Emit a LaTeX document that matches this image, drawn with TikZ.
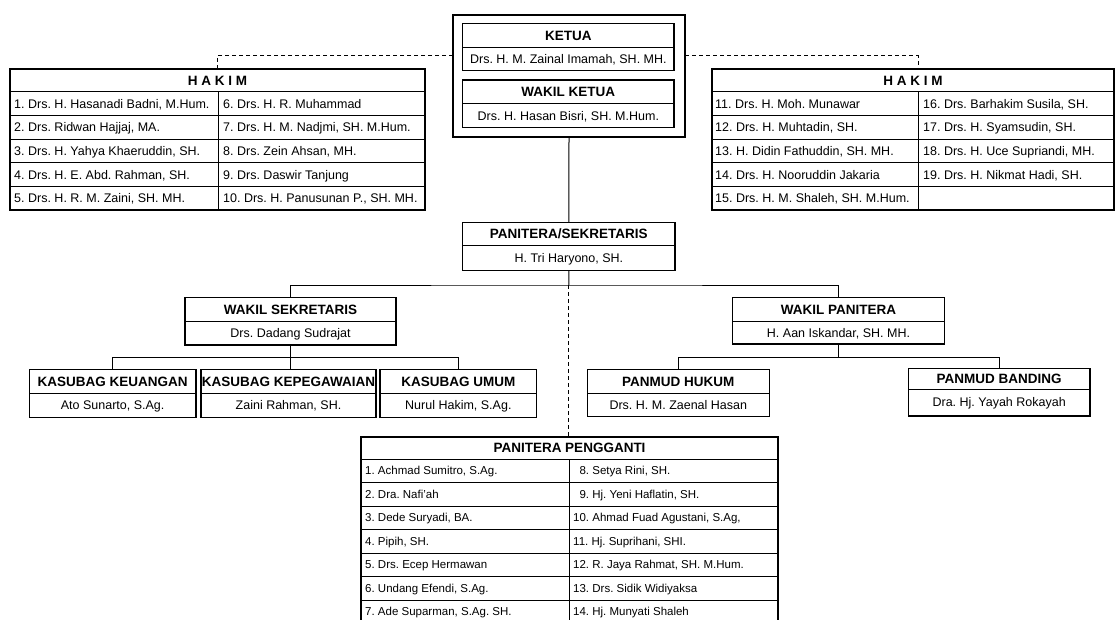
\documentclass[tikz,border=0pt]{standalone}
\usepackage{fontspec}
\setmainfont{Liberation Sans}
\usetikzlibrary{calc}
\frenchspacing
\tikzset{
  frame/.style={draw=black, line width=1.1pt, inner sep=0pt, outer sep=0pt},
  rule/.style={line width=1pt},
  hdr/.style={font=\fontsize{13.5}{13.5}\selectfont\bfseries, inner sep=0pt, text height=9.6pt, text depth=0pt},
  nm/.style={font=\fontsize{12.5}{12.5}\selectfont, inner sep=0pt, text height=8.9pt, text depth=0pt},
  cell/.style={nm, anchor=west},
  ppcell/.style={font=\fontsize{11.5}{11.5}\selectfont, inner sep=0pt, text height=8.2pt, text depth=0pt, anchor=west},
  conn/.style={line width=1pt},
  dconn/.style={line width=1pt, dash pattern=on 4pt off 3pt},
}
\newcommand{\orgbox}[8]{%
  \pgfmathsetmacro{\bxw}{#4-#2}%
  \pgfmathsetmacro{\bxh}{#6-#3}%
  \pgfmathsetmacro{\bxc}{(#2+#4)/2}%
  \pgfmathsetmacro{\bxa}{(#3+#5)/2}%
  \pgfmathsetmacro{\bxb}{(#5+#6)/2}%
  \node[frame, minimum width=\bxw pt, minimum height=\bxh pt, anchor=north west] (#1) at (#2,#3) {};
  \draw[rule] (#2,#5) -- (#4,#5);
  \node[hdr] (#1-h) at (\bxc,\bxa) {#7};
  \node[nm] (#1-n) at (\bxc,\bxb) {#8};
}
\newcommand{\gridtab}[8]{%
  \pgfmathsetmacro{\gtb}{#5+#6*#7}%
  \pgfmathsetmacro{\gtw}{#4-#2}%
  \pgfmathsetmacro{\gth}{\gtb-#3}%
  \pgfmathtruncatemacro{\gtn}{#7-1}%
  \node[frame, minimum width=\gtw pt, minimum height=\gth pt, anchor=north west] (#1) at (#2,#3) {};
  \draw[rule] (#2,#5) -- (#4,#5);
  \foreach \k in {1,...,\gtn} \draw[rule] (#2,{#5+#6*\k}) -- (#4,{#5+#6*\k});
  \draw[rule] (#8,#5) -- (#8,\gtb);
}
\begin{document}
\begin{tikzpicture}[x=1pt,y=-1pt]
\useasboundingbox (0,0) rectangle (1115,620);
\fill[white] (0,0) rectangle (1115,620);
\clip (0,0) rectangle (1115,620);

% ---- top: ketua / wakil ketua
\node[frame, minimum width=232pt, minimum height=122pt, anchor=north west] (pimpinan) at (453,15) {};
\orgbox{ketua}{462.7}{23.3}{674}{47.3}{70.7}{KETUA}{Drs. H. M. Zainal Imamah, SH. MH.}
\orgbox{wketua}{462.7}{80}{674}{104}{127.3}{WAKIL KETUA}{Drs. H. Hasan Bisri, SH. M.Hum.}

% ---- hakim left
\gridtab{hakimL}{10}{69}{425}{92}{23.6}{5}{218}
\node[hdr] (hakimL-h) at (217.5,80.5) {H A K I M};
\foreach \t [count=\i from 0] in {{1. Drs. H. Hasanadi Badni, M.Hum.},{2. Drs. Ridwan Hajjaj, MA.},{3. Drs. H. Yahya Khaeruddin, SH.},{4. Drs. H. E. Abd. Rahman, SH.},{5. Drs. H. R. M. Zaini, SH. MH.}}
  \node[cell] (hakimL-a\i) at (14,{92+23.6*(\i+0.5)}) {\t};
\foreach \t [count=\i from 0] in {{6. Drs. H. R. Muhammad},{7. Drs. H. M. Nadjmi, SH. M.Hum.},{8. Drs. Zein Ahsan, MH.},{9. Drs. Daswir Tanjung},{10. Drs. H. Panusunan P., SH. MH.}}
  \node[cell] (hakimL-b\i) at (223,{92+23.6*(\i+0.5)}) {\t};

% ---- hakim right
\gridtab{hakimR}{712}{69}{1114}{92}{23.6}{5}{918}
\node[hdr] (hakimR-h) at (913,80.5) {H A K I M};
\foreach \t [count=\i from 0] in {{11. Drs. H. Moh. Munawar},{12. Drs. H. Muhtadin, SH.},{13. H. Didin Fathuddin, SH. MH.},{14. Drs. H. Nooruddin Jakaria},{15. Drs. H. M. Shaleh, SH. M.Hum.}}
  \node[cell] (hakimR-a\i) at (715,{92+23.6*(\i+0.5)}) {\t};
\foreach \t [count=\i from 0] in {{16. Drs. Barhakim Susila, SH.},{17. Drs. H. Syamsudin, SH.},{18. Drs. H. Uce Supriandi, MH.},{19. Drs. H. Nikmat Hadi, SH.}}
  \node[cell] (hakimR-b\i) at (923,{92+23.6*(\i+0.5)}) {\t};

% ---- panitera / sekretaris
\orgbox{panitera}{462.7}{222.7}{675}{245}{270.7}{PANITERA/SEKRETARIS}{H. Tri Haryono, SH.}

% ---- wakil sekretaris branch
\orgbox{wsek}{185}{297.3}{396}{321.7}{345}{WAKIL SEKRETARIS}{Drs. Dadang Sudrajat}
\orgbox{keu}{29.3}{369.3}{196}{393.3}{417.3}{KASUBAG KEUANGAN}{Ato Sunarto, S.Ag.}
\orgbox{kep}{201}{369.3}{376}{393.3}{417.3}{KASUBAG KEPEGAWAIAN}{Zaini Rahman, SH.}
\orgbox{umum}{380}{369.3}{536.7}{393.3}{417.3}{KASUBAG UMUM}{Nurul Hakim, S.Ag.}

% ---- wakil panitera branch
\orgbox{wpan}{732.7}{297.3}{944.3}{321.7}{344}{WAKIL PANITERA}{H. Aan Iskandar, SH. MH.}
\orgbox{hukum}{587.3}{369.3}{769.3}{393.3}{416.7}{PANMUD HUKUM}{Drs. H. M. Zaenal Hasan}
\orgbox{banding}{908.3}{368.3}{1090}{389}{416}{PANMUD BANDING}{Dra. Hj. Yayah Rokayah}

% ---- panitera pengganti
\gridtab{pp}{361}{437}{778}{459}{23.5}{7}{569}
\node[hdr] (pp-h) at (569.5,448) {PANITERA PENGGANTI};
\foreach \t [count=\i from 0] in {{1. Achmad Sumitro, S.Ag.},{2. Dra. Nafi’ah},{3. Dede Suryadi, BA.},{4. Pipih, SH.},{5. Drs. Ecep Hermawan},{6. Undang Efendi, S.Ag.},{7. Ade Suparman, S.Ag. SH.}}
  \node[ppcell] (pp-a\i) at (365,{459+23.5*(\i+0.5)}) {\t};
\foreach \t [count=\i from 0] in {{\hphantom{1}8. Setya Rini, SH.},{\hphantom{1}9. Hj. Yeni Haflatin, SH.},{10. Ahmad Fuad Agustani, S.Ag,},{11. Hj. Suprihani, SHI.},{12. R. Jaya Rahmat, SH. M.Hum.},{13. Drs. Sidik Widiyaksa},{14. Hj. Munyati Shaleh}}
  \node[ppcell] (pp-b\i) at (573,{459+23.5*(\i+0.5)}) {\t};

% ---- connectors
\coordinate (dl) at (217.5,56);
\coordinate (dr) at (918,56);
\draw[dconn] (pimpinan.west |- dl) -- (dl) -- (hakimL.north);
\draw[dconn] (pimpinan.east |- dr) -- (dr) -- (dr |- hakimR.north);
\draw[conn] (pimpinan.south) -- (panitera.north);
\coordinate (jn) at (568.8,285);
\draw[conn] (panitera.south) -- (jn);
\draw[conn] (wsek.north) |- (jn) -| (wpan.north);
\draw[dconn] (jn) -- (jn |- pp.north);
\coordinate (sekbar) at (290.5,357.3);
\draw[conn] (wsek.south) -- (wsek.south |- kep.north);
\draw[conn] (keu.north) |- (sekbar) -| (umum.north);
\coordinate (panbar) at (838.5,357.3);
\draw[conn] (wpan.south) -- (panbar);
\draw[conn] (hukum.north) |- (panbar) -| (banding.north);
\end{tikzpicture}
\end{document}
